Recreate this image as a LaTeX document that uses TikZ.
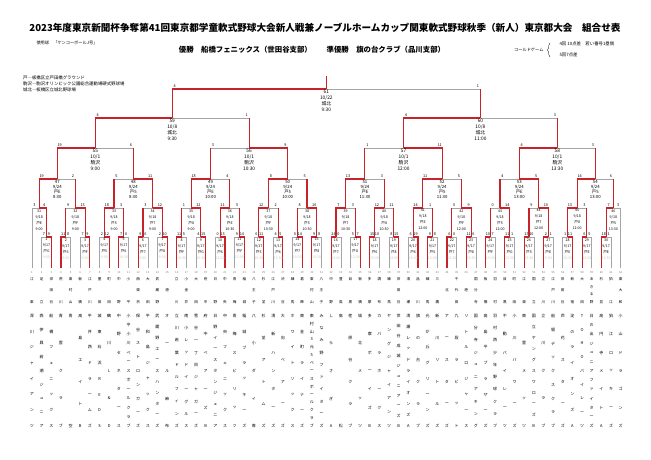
\documentclass[tikz,border=0pt]{standalone}
\usepackage{fontspec}
\setmainfont{Noto Sans CJK JP}
\usetikzlibrary{calc, decorations.pathreplacing}
\definecolor{winred}{RGB}{200,35,40}
\definecolor{losegray}{RGB}{165,165,165}

\makeatletter
% vertical text, characters spread from top y to bottom y
\newcount\vcol@n
\newcount\vcol@k
\def\vcol@loop{\@tfor\vcol@c:=}
\newcommand\vcol[6]{%
  \edef\vcol@txt{#6}%
  \global\vcol@n=0
  \expandafter\vcol@loop\vcol@txt\do{\global\advance\vcol@n by 1 }%
  \global\vcol@k=0
  \expandafter\vcol@loop\vcol@txt\do{%
    \ifnum\vcol@n=1
      \pgfmathsetmacro\vcol@y{(#4+#5)/2}%
    \else
      \pgfmathsetmacro\vcol@y{#4-(#4-#5)*\the\vcol@k/(\the\vcol@n-1)}%
    \fi
    \node[#1] (#2-\the\vcol@k) at (#3,\vcol@y) {\vcol@c};%
    \global\advance\vcol@k by 1 }%
}
\def\firstchar#1#2\relax{#1}
\makeatother

\begin{document}
\begin{tikzpicture}[
    x=1pt, y=1pt,
    lose/.style={draw=losegray, line width=0.6pt},
    win/.style={draw=winred, line width=1.1pt},
    score/.style={inner sep=0pt, anchor=south, font=\fontsize{3.8}{4}\selectfont},
    info/.style={inner sep=0pt, anchor=north, align=center, font=\fontsize{3.6}{6}\selectfont},
    midinfo/.style={info, font=\fontsize{4.3}{5.1}\selectfont},
    biginfo/.style={info, font=\fontsize{4.8}{5.8}\selectfont},
    teamno/.style={inner sep=0pt, text=gray, font=\fontsize{2.8}{3}\selectfont},
    namechar/.style={inner sep=0pt, font=\fontsize{4}{4}\selectfont},
    branchchar/.style={inner sep=0pt, font=\fontsize{3.6}{4}\selectfont}
  ]
  \useasboundingbox (0,0) rectangle (651,460);

  % Judul dan keterangan
  \node[font=\fontsize{9.6}{10}\selectfont\bfseries] (title) at (325,432) {2023年度東京新聞杯争奪第41回東京都学童軟式野球大会新人戦兼ノーブルホームカップ関東軟式野球秋季（新人）東京都大会　組合せ表};
  \node[anchor=west, font=\fontsize{4.2}{5}\selectfont] (ball) at (33,417) {使用球　「ケンコーボールJ号」};
  \node[font=\fontsize{7.4}{8}\selectfont\bfseries] (result) at (312,410) {優勝　船橋フェニックス（世田谷支部）　　準優勝　旗の台クラブ（品川支部）};
  \node[anchor=east, font=\fontsize{4.2}{5}\selectfont] (cold) at (547,410) {コールドゲーム};
  \draw[decorate, decoration={brace, amplitude=2.5pt}] ($(cold.east)+(3,-7)$) -- ($(cold.east)+(3,7)$);
  \node[anchor=west, font=\fontsize{4.4}{5}\selectfont] (cold1) at (556,416) {4回 10点差　若い番号1塁側};
  \node[anchor=west, font=\fontsize{4.4}{5}\selectfont] (cold2) at (556,405) {5回7点差};
  \node[anchor=north west, inner sep=0pt, align=left, font=\fontsize{4.4}{5.7}\selectfont] (venues) at (23,384) {戸―板橋区立戸田橋グラウンド\\駒沢―駒沢オリンピック公園総合運動場硬式野球場\\城北―板橋区立城北野球場};

  % Tim: nomor, cabang, nama
  \foreach \i/\br/\nm in {1/江東/深川ジャイアンツ, 2/足立/西伊興若潮ジュニア, 3/世田谷/船橋フェニックス, 4/荒川/青雲クラブ, 5/東村山/青空, 6/板橋/高島エイトB, 7/江戸川/平井西ドラームズ, 8/墨田/城東石浜REDS, 9/町田/鶴川L＆D, 10/中野/中野セネタース, 11/小平/小平小川ベースボールクラブ, 12/西東京/保谷ストロンガーズ, 13/大田/平和島ジャックス, 14/武蔵野/武蔵野エースハンターズ, 15/港/オール麻布, 16/立川/立川若葉ドルフィンズ, 17/小金井/南小レッドイーグルス, 18/大田/雪谷一丁目ジャガーズ, 19/府中/府中ベアーズB, 20/日野/日野イースタンジュニア, 21/中央/中央フェニックス, 22/青梅/青梅スピリッツ, 23/稲城/稲城ブラッキーズ, 24/八王子/八小ダイ専, 25/杉並/杉並アトムズ, 26/江戸川/清新ハンターズ, 27/渋谷/大向ベアーズ, 28/練馬/ホワイトソックス, 29/葛飾/東金町ライナーズ, 30/東村山/東村山3元5ベースボールクラブ, 31/八王子/みなみ野ファイターズ, 32/中野/しらさぎA, 33/豊島/高松, 34/目黒/荏原谷クラブ, 35/板橋/城北メッツ, 36/多摩/多摩ボーイズB, 37/調布/カバラホークス, 38/練馬/ヤングジャイアンツ, 39/世田谷/世田谷成城ジュニアーズB, 40/清瀬/清瀬レッドライオンズA, 41/品川/旗の台クラブ, 42/練馬/光が丘グリーンズ, 43/三鷹/新川リトルズ, 44/北/アースターズ, 45/千代田/九段ラビット, 46/港/リトルロジャース, 47/国分寺/国分寺ジュニアキング, 48/板橋/高島平ブラザーズ, 49/羽村/羽村西少年野球クラブ, 50/目黒/不動パイレーツ, 51/町田/小川パワーズ, 52/江東/東雲メッツ, 53/国立/国立ヤングスワローズB, 54/立川/立川クラブ, 55/江戸川/船堀デックスクラブ, 56/世田谷/芦花スターズ, 57/新宿/淀のライオンズA, 58/大田/TOHOパイレーツ, 59/あきる野/日の出ジュニアファイターズ, 60/杉並/高円寺メイトA, 61/狛江/狛江ロッキーズ, 62/東大和/小山ドラゴンズ}{
    \pgfmathsetmacro\tx{32+(\i-1)*9.65}
    \coordinate (t\i) at (\tx,192);
    \node[teamno] (n\i) at (\tx,187.5) {\i};
    \vcol{branchchar}{b\i}{\tx}{181}{158}{\br}
    \vcol{namechar}{c\i}{\tx}{144}{34}{\nm}
  }

  % Babak 1 (9/17)
  \foreach \m/\w/\sa/\sb/\vn/\tm in {1/R/7/9/戸G/9:00, 2/L/11/8/戸6/9:00, 3/R/7/9/戸F/9:00, 4/R/2/12/戸5/9:00, 5/L/7/6/戸6/10:30, 6/L/9/6/戸7/9:00, 7/R/2/10/戸8/9:00, 8/L/11/5/戸F/10:30, 9/R/4/15/戸G/10:30, 10/R/0/13/戸6/12:00, 11/R/9/14/戸F/12:00, 12/R/6/11/戸5/10:30, 13/R/4/5/戸6/13:30, 14/R/0/14/戸7/10:30, 15/L/9/8/戸8/10:30, 16/L/24/0/戸7/12:00, 17/R/5/7/戸G/12:00, 18/L/15/10/戸6/15:00, 19/R/8/15/戸8/12:00, 20/R/6/19/戸6/15:00, 21/L/9/8/戸5/12:00, 22/L/6/0/戸7/13:30, 23/L/11/6/戸8/13:30, 24/L/10/7/戸F/13:30, 25/L/11/1/戸G/13:30, 26/L/15/10/戸5/13:30, 27/L/2/1/戸E/9:00, 28/R/1/11/戸E/10:30, 29/L/6/5/戸E/12:00, 30/L/18/1/戸E/13:30}{
    \pgfmathtruncatemacro\ta{2*\m}
    \pgfmathtruncatemacro\tb{2*\m+1}
    \path let \p1=(t\ta), \p2=(t\tb) in
      coordinate (m\m) at ({(\x1+\x2)/2},223pt)
      coordinate (m\m-l) at (\x1,223pt)
      coordinate (m\m-r) at (\x2,223pt);
    \if\w L\edef\wc{\ta}\edef\lc{\tb}\def\ws{l}\def\ls{r}\else\edef\wc{\tb}\edef\lc{\ta}\def\ws{r}\def\ls{l}\fi
    \draw[lose] (t\lc) -- (m\m-\ls) -- (m\m);
    \draw[win] (t\wc) -- (m\m-\ws) -- (m\m);
    \node[score] (s\m-l) at ($(m\m-l)+(2.4,0.8)$) {\sa};
    \node[score] (s\m-r) at ($(m\m-r)+(-2.4,0.8)$) {\sb};
    \node[info] (i\m) at ($(m\m)+(0,-1.2)$) {\m\\9/17\\\vn\\\textcolor{gray!45}{\tm}};
  }

  % Babak 2 sampai final
  \foreach \m/\a/\b/\lv/\w/\sa/\sb/\dt/\vn/\tm in {31/t1/m1/252/R/3/4/{9/18}/戸E/9:00, 32/m2/m3/252/R/9/13/{9/18}/戸F/9:00, 33/m4/m5/252/L/18/3/{9/18}/戸5/9:00, 34/m6/m7/252/R/3/12/{9/18}/戸7/9:00, 35/m8/m9/252/R/1/12/{9/18}/戸8/9:00, 36/m10/m11/252/L/11/5/{9/18}/戸E/10:30, 37/m12/m13/252/L/12/2/{9/18}/戸F/10:30, 38/m14/m15/252/R/8/16/{9/18}/戸5/10:30, 39/m16/m17/252/L/7/3/{9/18}/戸7/10:30, 40/m18/m19/252/L/12/11/{9/18}/戸8/10:30, 41/m20/m21/252/L/14/1/{9/18}/戸E/12:00, 42/m22/m23/252/R/0/9/{9/18}/戸F/12:00, 43/m24/m25/252/R/0/14/{9/18}/戸5/12:00, 44/m26/m27/252/R/9/10/{9/18}/戸7/12:00, 45/m28/m29/252/L/13/3/{9/18}/戸8/12:00, 46/m30/t62/252/L/7/3/{9/18}/戸5/13:30, 47/m31/m32/281/L/19/2/{9/24}/戸E/8:30, 48/m33/m34/281/R/5/11/{9/24}/戸5/8:30, 49/m35/m36/281/L/18/4/{9/24}/戸E/10:00, 50/m37/m38/281/L/8/5/{9/24}/戸5/10:00, 51/m39/m40/281/L/13/3/{9/24}/戸E/11:30, 52/m41/m42/281/L/11/5/{9/24}/戸5/11:30, 53/m43/m44/281/R/4/5/{9/24}/戸E/13:00, 54/m45/m46/281/L/14/6/{9/24}/戸5/13:00, 55/m47/m48/312/L/19/6/{10/1}/駒沢/9:00, 56/m49/m50/312/R/3/9/{10/1}/駒沢/10:30, 57/m51/m52/312/R/1/11/{10/1}/駒沢/12:00, 58/m53/m54/312/L/4/3/{10/1}/駒沢/13:30, 59/m55/m56/342/L/4/1/{10/8}/城北/9:30, 60/m57/m58/342/L/4/3/{10/8}/城北/11:00, 61/m59/m60/371/L/4/1/{10/22}/城北/9:30}{
    \path let \p1=(\a), \p2=(\b) in
      coordinate (m\m) at ({(\x1+\x2)/2},\lv pt)
      coordinate (m\m-l) at (\x1,\lv pt)
      coordinate (m\m-r) at (\x2,\lv pt);
    \if\w L\let\wc\a\let\lc\b\def\ws{l}\def\ls{r}\else\let\wc\b\let\lc\a\def\ws{r}\def\ls{l}\fi
    \if t\expandafter\firstchar\lc\relax
      \draw[lose] (\lc) -- (m\m-\ls) -- (m\m);
    \else
      \draw[lose] (m\m-\ls) -- (m\m);
      \draw[win] (\lc) -- (m\m-\ls);
    \fi
    \draw[win] (\wc) -- (m\m-\ws) -- (m\m);
    \node[score] (s\m-l) at ($(m\m-l)+(2.4,0.8)$) {\sa};
    \node[score] (s\m-r) at ($(m\m-r)+(-2.4,0.8)$) {\sb};
    \ifnum\lv<270 \def\ist{info}\else\ifnum\lv<300 \def\ist{midinfo}\else\def\ist{biginfo}\fi\fi
    \node[\ist] (i\m) at ($(m\m)+(0,-1.2)$) {\m\\\dt\\\vn\\\tm};
  }
  \path (m61) ++(0,13) coordinate (champ);
  \draw[win] (m61) -- (champ);
\end{tikzpicture}
\end{document}
